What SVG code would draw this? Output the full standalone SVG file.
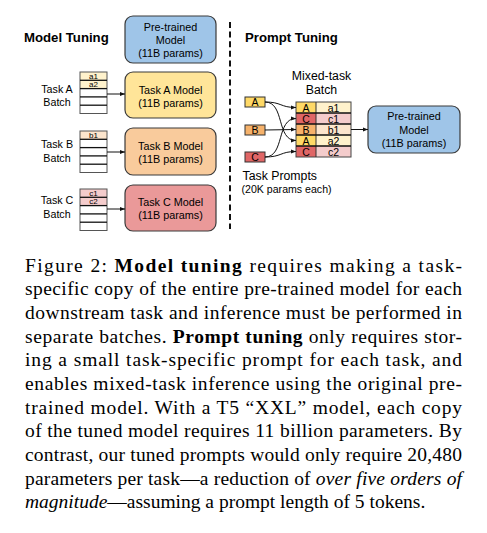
<svg xmlns="http://www.w3.org/2000/svg" width="487" height="533" viewBox="0 0 487 533">
<style>
.sans{font-family:"Liberation Sans",Arial,sans-serif;fill:#000}
.title{font-weight:bold;font-size:13.2px}
.box{stroke:#3a3a3a;stroke-width:1.2}
.bt{font-size:10.8px;text-anchor:middle}
.lbl{font-size:10.7px;text-anchor:middle}
.cell{font-size:8px;text-anchor:middle}
.tbl{fill:none;stroke:#555;stroke-width:1}
.row{stroke:#111;stroke-width:1.3}
.conn{fill:none;stroke:#111;stroke-width:1}
.cap{font-family:"Liberation Serif","Times New Roman",serif;font-size:19.5px;fill:#000}
</style>
<defs>
<marker id="ah" viewBox="0 0 10 10" refX="10" refY="5" markerWidth="5" markerHeight="5" orient="auto" markerUnits="userSpaceOnUse">
<path d="M0,1 L10,5 L0,9 z" fill="#111"/>
</marker>
</defs>
<rect width="487" height="533" fill="#fff"/>

<text class="sans title" x="24" y="42">Model Tuning</text>
<text class="sans title" x="245" y="42">Prompt Tuning</text>

<line x1="230" y1="22" x2="230" y2="229" stroke="#111" stroke-width="2" stroke-dasharray="6 3.6"/>

<g id="pretrained-left">
<rect class="box" x="125" y="16" width="91" height="47" rx="8" fill="#9fc5e8"/>
<text class="sans bt" x="170.5" y="31">Pre-trained</text>
<text class="sans bt" x="170.5" y="44">Model</text>
<text class="sans bt" x="170.5" y="57">(11B params)</text>
</g>

<g id="task-a-model">
<rect class="box" x="125" y="72" width="91" height="46" rx="8" fill="#ffe599"/>
<text class="sans bt" x="170.5" y="94">Task A Model</text>
<text class="sans bt" x="170.5" y="107">(11B params)</text>
</g>
<g id="task-b-model">
<rect class="box" x="125" y="128" width="91" height="47" rx="8" fill="#f9cb9c"/>
<text class="sans bt" x="170.5" y="149.5">Task B Model</text>
<text class="sans bt" x="170.5" y="162.5">(11B params)</text>
</g>
<g id="task-c-model">
<rect class="box" x="125" y="185" width="91" height="46" rx="8" fill="#ea9999"/>
<text class="sans bt" x="170.5" y="206">Task C Model</text>
<text class="sans bt" x="170.5" y="219">(11B params)</text>
</g>

<g id="task-a-batch">
<text class="sans lbl" x="57" y="93">Task A</text>
<text class="sans lbl" x="57" y="106">Batch</text>
<rect x="80" y="72" width="27" height="16.6" fill="#fff2cc"/>
<rect class="tbl" x="80" y="72" width="27" height="41.5"/>
<line class="row" x1="80" y1="80.3" x2="107" y2="80.3"/>
<line class="row" x1="80" y1="88.6" x2="107" y2="88.6"/>
<line class="row" x1="80" y1="96.9" x2="107" y2="96.9"/>
<line class="row" x1="80" y1="105.2" x2="107" y2="105.2"/>
<text class="sans cell" x="93.5" y="79">a1</text>
<text class="sans cell" x="93.5" y="87.4">a2</text>
</g>
<g id="task-b-batch">
<text class="sans lbl" x="57" y="148">Task B</text>
<text class="sans lbl" x="57" y="162">Batch</text>
<rect x="80" y="131" width="27" height="8.3" fill="#fce5cd"/>
<rect class="tbl" x="80" y="131" width="27" height="41.5"/>
<line class="row" x1="80" y1="139.3" x2="107" y2="139.3"/>
<line class="row" x1="80" y1="147.6" x2="107" y2="147.6"/>
<line class="row" x1="80" y1="155.9" x2="107" y2="155.9"/>
<line class="row" x1="80" y1="164.2" x2="107" y2="164.2"/>
<text class="sans cell" x="93.5" y="138">b1</text>
</g>
<g id="task-c-batch">
<text class="sans lbl" x="57" y="204">Task C</text>
<text class="sans lbl" x="57" y="218">Batch</text>
<rect x="80" y="189" width="27" height="16.6" fill="#f4cccc"/>
<rect class="tbl" x="80" y="189" width="27" height="41.5"/>
<line class="row" x1="80" y1="197.3" x2="107" y2="197.3"/>
<line class="row" x1="80" y1="205.6" x2="107" y2="205.6"/>
<line class="row" x1="80" y1="213.9" x2="107" y2="213.9"/>
<line class="row" x1="80" y1="222.2" x2="107" y2="222.2"/>
<text class="sans cell" x="93.5" y="196">c1</text>
<text class="sans cell" x="93.5" y="204.4">c2</text>
</g>

<g id="prompt-a">
<rect x="245" y="97" width="20" height="10" fill="#ffd966" stroke="#333" stroke-width="1"/>
<text class="sans" x="255" y="106" font-size="10.5" text-anchor="middle">A</text>
</g>
<g id="prompt-b">
<rect x="245" y="125" width="20" height="10" fill="#f6b26b" stroke="#333" stroke-width="1"/>
<text class="sans" x="255" y="134" font-size="10.5" text-anchor="middle">B</text>
</g>
<g id="prompt-c">
<rect x="245" y="152" width="20" height="10" fill="#e06666" stroke="#333" stroke-width="1"/>
<text class="sans" x="255" y="161" font-size="10.5" text-anchor="middle">C</text>
</g>
<g id="task-prompts-label">
<text class="sans" x="242.5" y="180" font-size="12.3">Task Prompts</text>
<text class="sans" x="241.5" y="192.5" font-size="10.6">(20K params each)</text>
</g>

<g id="mixed-batch">
<text class="sans" x="321.5" y="80" font-size="12.3" text-anchor="middle">Mixed-task</text>
<text class="sans" x="321.5" y="94" font-size="12.3" text-anchor="middle">Batch</text>
<rect x="296" y="102" width="20" height="11" fill="#ffd966"/>
<rect x="316" y="102" width="35" height="11" fill="#fff2cc"/>
<rect x="296" y="113" width="20" height="11" fill="#e06666"/>
<rect x="316" y="113" width="35" height="11" fill="#f4cccc"/>
<rect x="296" y="124" width="20" height="11" fill="#f6b26b"/>
<rect x="316" y="124" width="35" height="11" fill="#fce5cd"/>
<rect x="296" y="135" width="20" height="11" fill="#ffd966"/>
<rect x="316" y="135" width="35" height="11" fill="#fff2cc"/>
<rect x="296" y="146" width="20" height="11" fill="#e06666"/>
<rect x="316" y="146" width="35" height="11" fill="#f4cccc"/>
<rect x="296" y="102" width="55" height="55" fill="none" stroke="#444" stroke-width="1"/>
<line x1="316" y1="102" x2="316" y2="157" stroke="#333" stroke-width="1"/>
<line class="row" x1="296" y1="113" x2="351" y2="113"/>
<line class="row" x1="296" y1="124" x2="351" y2="124"/>
<line class="row" x1="296" y1="135" x2="351" y2="135"/>
<line class="row" x1="296" y1="146" x2="351" y2="146"/>
<g class="sans" font-size="10.5" text-anchor="middle">
<text x="306" y="111.5">A</text><text x="333.5" y="111.5">a1</text>
<text x="306" y="122.5">C</text><text x="333.5" y="122.5">c1</text>
<text x="306" y="133.5">B</text><text x="333.5" y="133.5">b1</text>
<text x="306" y="144.5">A</text><text x="333.5" y="144.5">a2</text>
<text x="306" y="155.5">C</text><text x="333.5" y="155.5">c2</text>
</g>
</g>

<g id="pretrained-right">
<rect class="box" x="368" y="106" width="92" height="47" rx="8" fill="#9fc5e8"/>
<text class="sans bt" x="414" y="120">Pre-trained</text>
<text class="sans bt" x="414" y="133.5">Model</text>
<text class="sans bt" x="414" y="147">(11B params)</text>
</g>

<g id="connectors">
<line class="conn" x1="107" y1="94" x2="125" y2="94" marker-end="url(#ah)"/>
<line class="conn" x1="107" y1="152" x2="125" y2="152" marker-end="url(#ah)"/>
<line class="conn" x1="107" y1="209" x2="125" y2="209" marker-end="url(#ah)"/>
<path class="conn" d="M265,102 C282,102 280,107.5 296,107.5" marker-end="url(#ah)"/>
<path class="conn" d="M265,102 C285,102 276,140.5 296,140.5" marker-end="url(#ah)"/>
<line class="conn" x1="265" y1="130" x2="296" y2="129.5" marker-end="url(#ah)"/>
<path class="conn" d="M265,157 C285,157 276,118.5 296,118.5" marker-end="url(#ah)"/>
<path class="conn" d="M265,157 C282,157 280,151.5 296,151.5" marker-end="url(#ah)"/>
<line class="conn" x1="351" y1="129.5" x2="368" y2="129.5" marker-end="url(#ah)"/>
</g>

<g id="caption">
<text class="cap" x="25" y="271.7" textLength="437" lengthAdjust="spacing">Figure 2:  <tspan font-weight="bold">Model tuning</tspan> requires making a task-</text>
<text class="cap" x="25" y="295.4" textLength="437" lengthAdjust="spacing">specific copy of the entire pre-trained model for each</text>
<text class="cap" x="25" y="319" textLength="437" lengthAdjust="spacing">downstream task and inference must be performed in</text>
<text class="cap" x="25" y="342.7" textLength="437" lengthAdjust="spacing">separate batches.  <tspan font-weight="bold">Prompt tuning</tspan> only requires stor-</text>
<text class="cap" x="25" y="366.3" textLength="437" lengthAdjust="spacing">ing a small task-specific prompt for each task, and</text>
<text class="cap" x="25" y="390" textLength="437" lengthAdjust="spacing">enables mixed-task inference using the original pre-</text>
<text class="cap" x="25" y="413.6" textLength="437" lengthAdjust="spacing">trained model.  With a T5 “XXL” model, each copy</text>
<text class="cap" x="25" y="437.3" textLength="437" lengthAdjust="spacing">of the tuned model requires 11 billion parameters.  By</text>
<text class="cap" x="25" y="461" textLength="437" lengthAdjust="spacing">contrast, our tuned prompts would only require 20,480</text>
<text class="cap" x="25" y="484.6" textLength="437" lengthAdjust="spacing">parameters per task—a reduction of <tspan font-style="italic">over five orders of</tspan></text>
<text class="cap" x="25" y="508.3"><tspan font-style="italic">magnitude</tspan>—assuming a prompt length of 5 tokens.</text>
</g>
</svg>
